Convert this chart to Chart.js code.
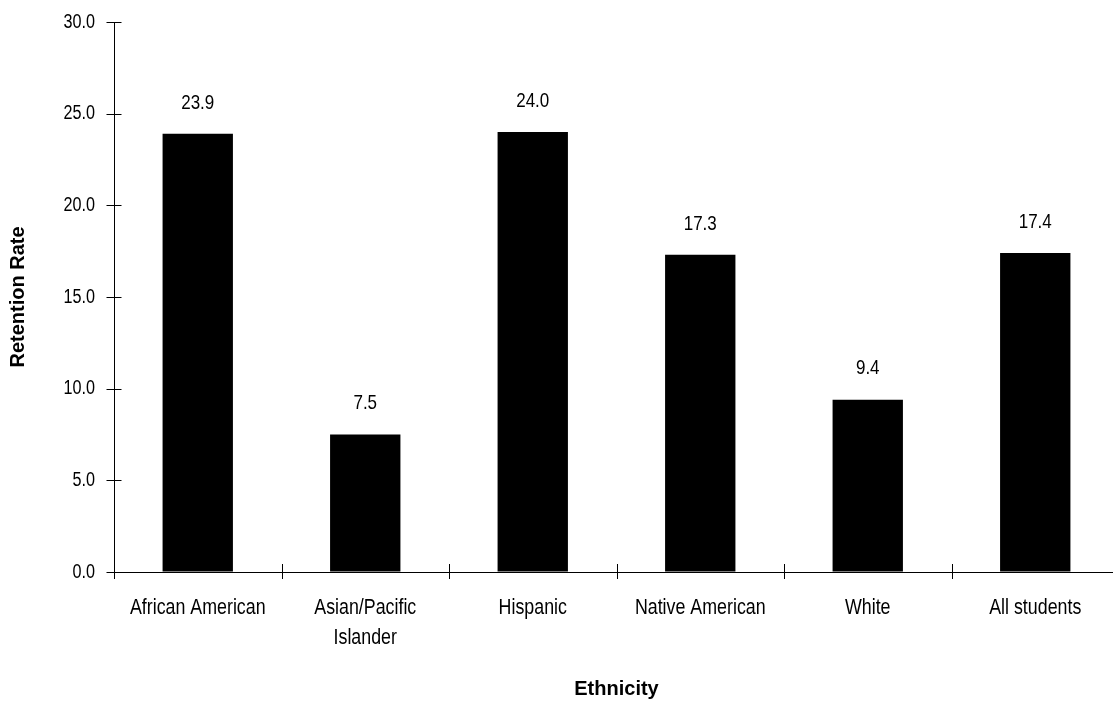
<!DOCTYPE html>
<html>
<head>
<meta charset="utf-8">
<script src="https://cdn.jsdelivr.net/npm/chart.js@4/dist/chart.umd.min.js"></script>
<style>
  html, body { margin: 0; padding: 0; background: #fff; overflow: hidden; }
  #wrap { width: 1125px; height: 704px; }
</style>
</head>
<body>
<div id="wrap"><canvas id="c" width="1125" height="704"></canvas></div>
<script>
const categories = ['African American', ['Asian/Pacific', 'Islander'], 'Hispanic', 'Native American', 'White', 'All students'];
const retentionRates = [23.9, 7.5, 24.0, 17.3, 9.4, 17.4];
const yTickValues = [0, 5, 10, 15, 20, 25, 30];
const yAxisTitle = 'Retention Rate';
const xAxisTitle = 'Ethnicity';

const NARROW = "'Liberation Sans', Arial, sans-serif";
const REG = "Arial, 'Liberation Sans', sans-serif";
const CONDENSE = 0.81;

// Render non-bold text horizontally condensed (the reference uses a narrow face)
const narrowText = {
  id: 'narrowText',
  beforeInit(chart) {
    const ctx = chart.ctx;
    const orig = ctx.fillText.bind(ctx);
    ctx.fillText = function (text, x, y, maxWidth) {
      const f = ctx.font || '';
      if (/bold|700/.test(f)) {
        return maxWidth === undefined ? orig(text, x, y) : orig(text, x, y, maxWidth);
      }
      ctx.save();
      ctx.translate(x, y);
      ctx.scale(CONDENSE, 1);
      orig(text, 0, 0);
      ctx.restore();
    };
  }
};

const crossTicks = {
  id: 'crossTicks',
  afterDraw(chart) {
    const ctx = chart.ctx;
    const ca = chart.chartArea;
    const y = chart.scales.y;
    ctx.save();
    ctx.strokeStyle = '#000';
    ctx.lineWidth = 1;
    ctx.beginPath();
    yTickValues.forEach(v => {
      const py = Math.round(y.getPixelForValue(v)) + 0.5;
      ctx.moveTo(ca.left - 7.5, py);
      ctx.lineTo(ca.left + 7.5, py);
    });
    const n = categories.length;
    for (let i = 0; i <= n; i++) {
      const px = Math.round(ca.left + i * (ca.right - ca.left) / n) + 0.5;
      ctx.moveTo(px, ca.bottom - 8);
      ctx.lineTo(px, ca.bottom + 7);
    }
    ctx.stroke();
    ctx.restore();
  }
};

const valueLabels = {
  id: 'valueLabels',
  afterDatasetsDraw(chart) {
    const ctx = chart.ctx;
    const meta = chart.getDatasetMeta(0);
    ctx.save();
    ctx.fillStyle = '#000';
    ctx.font = '21px ' + NARROW;
    ctx.textAlign = 'center';
    ctx.textBaseline = 'middle';
    meta.data.forEach((bar, i) => {
      ctx.fillText(retentionRates[i].toFixed(1), bar.x, bar.y - 31);
    });
    ctx.restore();
  }
};

new Chart(document.getElementById('c'), {
  type: 'bar',
  data: {
    labels: categories,
    datasets: [{
      data: retentionRates,
      backgroundColor: '#000',
      borderWidth: 0,
      categoryPercentage: 1.0,
      barPercentage: 0.42
    }]
  },
  options: {
    responsive: false,
    animation: false,
    devicePixelRatio: 1,
    layout: { padding: { left: 0, right: 6, top: 22, bottom: 0 } },
    plugins: { legend: { display: false }, tooltip: { enabled: false } },
    scales: {
      x: {
        grid: { display: true, drawOnChartArea: false, drawTicks: false, color: 'rgba(0,0,0,0)' },
        border: { display: true, color: '#000', width: 1 },
        ticks: {
          color: '#000',
          font: { family: NARROW, size: 22, lineHeight: 1.36 },
          padding: 21,
          autoSkip: false,
          maxRotation: 0,
          minRotation: 0
        },
        title: {
          display: true,
          text: xAxisTitle,
          color: '#000',
          font: { family: REG, size: 20, weight: 'bold', lineHeight: 1.2 },
          padding: { top: 0, bottom: 3 }
        },
        afterFit(scale) { scale.height = 132; }
      },
      y: {
        min: 0,
        max: 30,
        grid: { display: true, drawOnChartArea: false, drawTicks: false, color: 'rgba(0,0,0,0)' },
        border: { display: true, color: '#000', width: 1 },
        ticks: {
          stepSize: 5,
          color: '#000',
          font: { family: NARROW, size: 20 },
          padding: 19,
          callback: (v) => Number(v).toFixed(1)
        },
        title: {
          display: true,
          text: yAxisTitle,
          color: '#000',
          font: { family: REG, size: 20, weight: 'bold', lineHeight: 1.2 },
          padding: { top: 6, bottom: 0 }
        },
        afterFit(scale) {
          scale.width = 114;
          scale.paddingTop = 0;
          scale.paddingBottom = 0;
        }
      }
    }
  },
  plugins: [narrowText, crossTicks, valueLabels]
});
</script>
</body>
</html>
